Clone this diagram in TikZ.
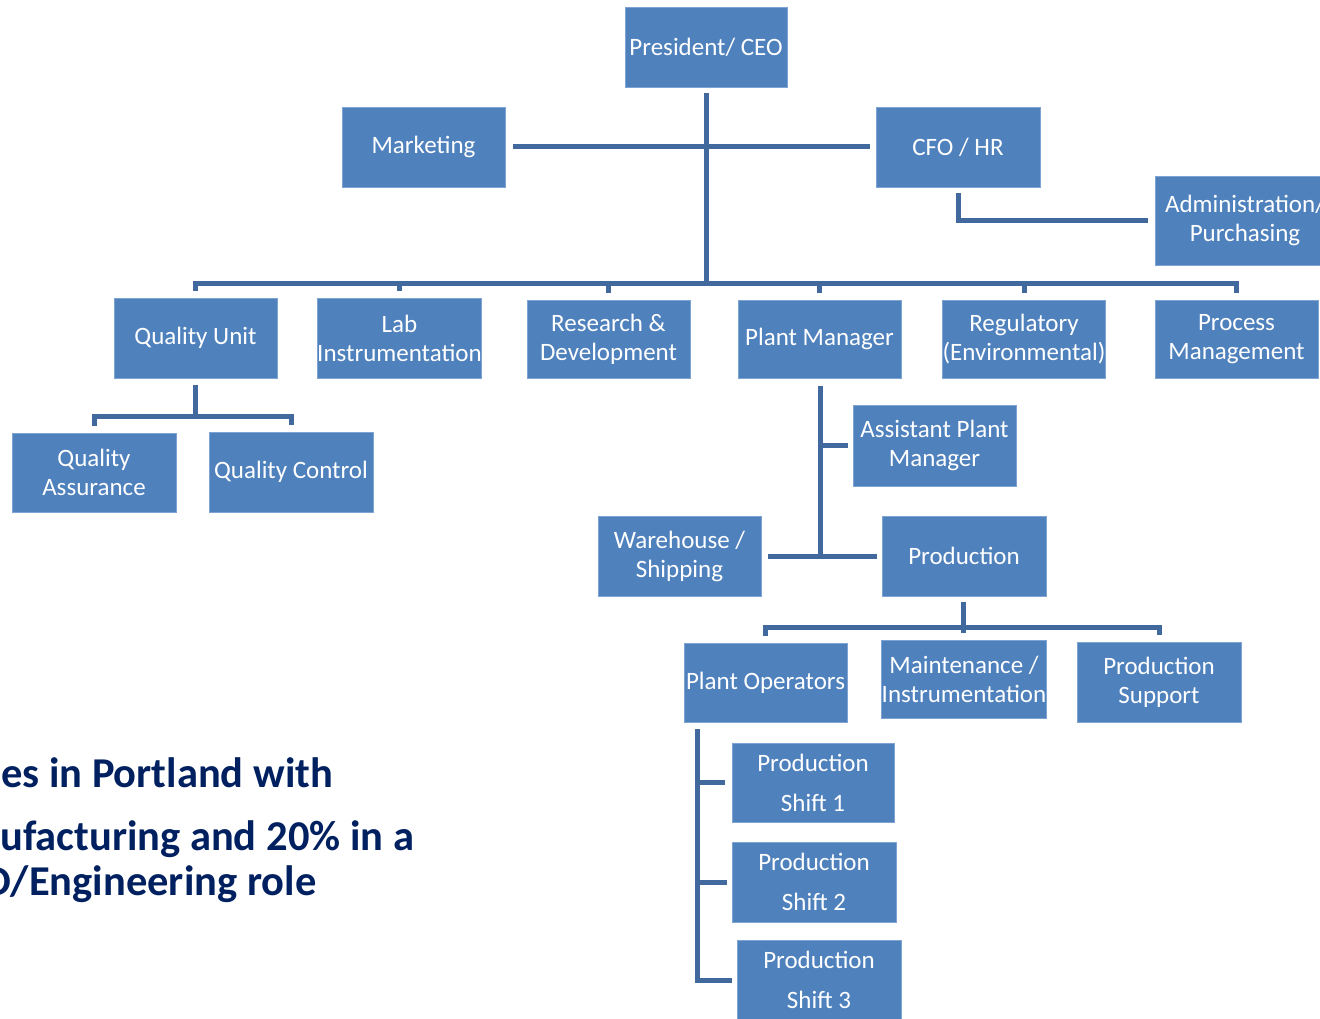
\documentclass[tikz,border=0pt]{standalone}
\usepackage{fontspec}
\setmainfont{Carlito}
\definecolor{boxblue}{HTML}{4F81BD}
\definecolor{boxedge}{HTML}{7FA3D3}
\definecolor{linkblue}{HTML}{41699E}
\definecolor{navy}{HTML}{002060}
\begin{document}
\begin{tikzpicture}[x=1pt,y=-1pt,
 unit/.style={rectangle, fill=boxblue, draw=boxedge, line width=0.8pt, text=white,
   minimum width=163pt, minimum height=80pt, inner sep=0pt, align=center,
   font=\fontsize{25}{29}\selectfont},
 shiftbox/.style={unit, font=\fontsize{25}{40}\selectfont},
 conn/.style={draw=linkblue, line width=5pt},
 note/.style={anchor=base west, text=navy, inner sep=0pt,
   font=\fontsize{42.5}{45}\selectfont\bfseries}]
\useasboundingbox (0,0) rectangle (1320,1019);
\clip (0,0) rectangle (1320,1019);

% boxes
\node[unit, minimum width=162pt] (ceo) at (706,47) {President/ CEO};
\node[unit] (mkt) at (423.5,147) {Marketing};
\node[unit, minimum width=164pt] (cfo) at (958,147) {CFO / HR};
\node[unit, minimum width=180pt, minimum height=89pt] (admin) at (1245,220.5) {Administration/\\Purchasing};
\node[unit] (qu) at (195.5,338) {Quality Unit};
\node[unit] (lab) at (399.5,338) {Lab\\Instrumentation};
\node[unit, minimum height=78pt] (rd) at (608.5,339) {Research \&\\Development};
\node[unit, minimum height=78pt] (pm) at (819.5,339) {Plant Manager};
\node[unit, minimum height=78pt, minimum width=162pt] (reg) at (1024,339) {Regulatory\\(Environmental)};
\node[unit, minimum height=78pt] (proc) at (1236.5,339) {Process\\Management};
\node[unit, minimum height=79pt, minimum width=164pt] (qa) at (94,472.5) {Quality\\Assurance};
\node[unit, minimum width=164pt] (qc) at (291,472) {Quality Control};
\node[unit, minimum height=81pt] (apm) at (934.5,445.5) {Assistant Plant\\Manager};
\node[unit] (wh) at (679.5,556) {Warehouse /\\Shipping};
\node[unit, minimum width=164pt] (prod) at (964,556) {Production};
\node[unit, minimum height=79pt] (po) at (765.5,682.5) {Plant Operators};
\node[unit, minimum height=78pt, minimum width=164pt] (maint) at (964,679) {Maintenance /\\Instrumentation};
\node[unit, minimum width=164pt] (ps) at (1159,682) {Production\\Support};
\node[shiftbox, minimum width=162pt, minimum height=79pt] (s1) at (813,782.5) {Production\\Shift 1};
\node[shiftbox, minimum width=164pt] (s2) at (814,882) {Production\\Shift 2};
\node[shiftbox, minimum width=164pt] (s3) at (819,980) {Production\\Shift 3};

% junction coordinates
\coordinate (bus) at (706,283);
\coordinate (qbus) at (195,416);
\coordinate (pmj) at (820,555);
\coordinate (prbus) at (963,627);
\coordinate (potop) at (697,729);

% connectors
\draw[conn] ([yshift=-6pt]ceo.south) -- (bus);
\draw[conn] ([xshift=8pt]mkt.east) -- ([xshift=-6pt]cfo.west);
\draw[conn] ([yshift=-6pt]cfo.south) |- ([xshift=-7pt]admin.west);
\draw[conn] ([yshift=7pt]qu.north) |- (bus) -| ([yshift=7pt]proc.north);
\draw[conn] ([yshift=7pt]lab.north) -- (lab.north |- bus);
\draw[conn] ([yshift=7pt]rd.north) -- (rd.north |- bus);
\draw[conn] ([yshift=7pt]pm.north) -- (pm.north |- bus);
\draw[conn] ([yshift=7pt]reg.north) -- (reg.north |- bus);

\draw[conn] ([yshift=-7pt]qbus |- qu.south) -- (qbus);
\draw[conn] ([yshift=7pt]qa.north) |- (qbus) -| ([yshift=7pt]qc.north);

\draw[conn] ([yshift=-8pt]pmj |- pm.south) -- (pmj);
\draw[conn] (pmj |- apm.west) -- ([xshift=-5pt]apm.west);
\draw[conn] ([xshift=7pt]wh.east) -- ([xshift=-5pt]prod.west);

\draw[conn] ([yshift=-6pt]prbus |- prod.south) -- (prbus);
\draw[conn] ([yshift=7pt]po.north) |- (prbus) -| ([yshift=7pt]ps.north);
\draw[conn] ([yshift=7pt]prbus |- maint.north) -- (prbus);

\draw[conn] (potop) |- ([xshift=-5pt]s3.west);
\draw[conn] (potop |- s1.west) -- ([xshift=-7pt]s1.west);
\draw[conn] (potop |- s2.west) -- ([xshift=-5pt]s2.west);

% text on the left
\node[note] (t1) at (1,787) {es in Portland with};
\node[note] (t2) at (0,850) {ufacturing and 20\% in a};
\node[note] (t3) at (-16,895) {D/Engineering role};
\end{tikzpicture}
\end{document}
